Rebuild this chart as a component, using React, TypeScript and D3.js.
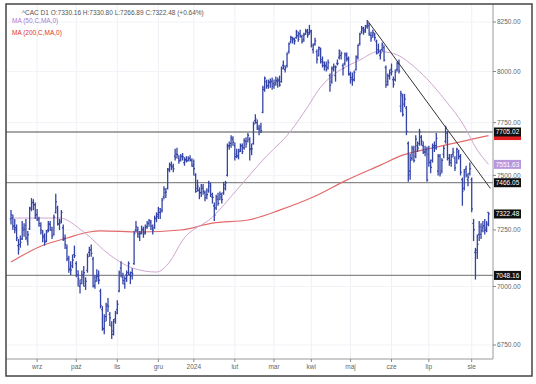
import React from 'react';
import * as d3 from 'd3';

type Bar = [number, number, number, number]; // open, high, low, close

const aug23: Bar[] = [
  [7300,7340,7275,7318],[7305,7320,7250,7267],[7270,7300,7235,7260],[7250,7275,7200,7215],
  [7180,7210,7140,7164],[7185,7225,7170,7194],[7210,7290,7205,7260],[7250,7280,7220,7254],
  [7270,7300,7205,7214],[7200,7245,7180,7229],[7255,7355,7250,7346],[7350,7395,7335,7374],
  [7375,7390,7340,7364],[7365,7375,7300,7316],
];
const sep23: Bar[] = [
  [7320,7345,7290,7296],[7300,7310,7265,7279],[7270,7285,7230,7250],[7240,7250,7195,7223],
  [7215,7235,7180,7196],[7200,7250,7195,7241],[7250,7290,7240,7279],[7275,7290,7245,7262],
  [7250,7265,7210,7222],[7230,7320,7225,7308],[7330,7415,7325,7378],[7350,7360,7270,7279],
  [7275,7300,7250,7281],[7290,7340,7280,7330],[7260,7275,7200,7214],[7210,7230,7165,7184],
  [7170,7185,7110,7123],[7120,7135,7060,7074],[7080,7110,7050,7071],[7090,7140,7080,7116],
  [7140,7180,7125,7135],
];
const oct23: Bar[] = [
  [7100,7110,7040,7068],[7050,7070,7000,7034],[7000,7030,6970,7012],[7030,7070,7010,7050],
  [7040,7090,7000,7060],[7000,7040,6985,7022],[7070,7145,7060,7131],[7150,7175,7130,7162],
  [7160,7185,7130,7145],[7120,7130,6995,7004],[7000,7050,6990,7023],[7040,7075,7020,7044],
  [7050,7070,7010,7027],[6980,6990,6905,6917],[6900,6915,6810,6816],[6820,6880,6795,6850],
  [6870,6930,6850,6915],[6920,6950,6890,6914],[6880,6890,6830,6865],[6830,6850,6775,6795],
  [6810,6860,6790,6850],[6860,6895,6840,6885],
];
const nov23: Bar[] = [
  [6900,6940,6880,6923],[6980,7070,6975,7060],[7080,7110,7040,7048],[7040,7060,7010,7026],
  [7010,7045,6990,7034],[7050,7070,7020,7047],[7060,7110,7050,7100],[7050,7065,7010,7045],
  [7060,7080,7030,7055],[7100,7245,7095,7234],[7250,7290,7240,7264],[7250,7265,7215,7232],
  [7220,7245,7200,7234],[7240,7270,7230,7254],[7250,7265,7215,7233],[7240,7275,7230,7260],
  [7265,7290,7255,7278],[7280,7300,7265,7293],[7285,7295,7250,7267],[7255,7275,7230,7249],
  [7260,7315,7255,7304],[7300,7330,7285,7310],
];
const dec23: Bar[] = [
  [7320,7355,7300,7346],[7330,7350,7300,7330],[7340,7395,7330,7386],[7400,7450,7390,7436],
  [7420,7440,7395,7423],[7440,7535,7435,7526],[7530,7560,7515,7545],[7550,7565,7525,7543],
  [7540,7555,7515,7531],[7590,7625,7570,7582],[7600,7630,7580,7597],[7580,7595,7555,7569],
  [7575,7600,7565,7588],[7590,7605,7570,7587],[7560,7585,7545,7571],[7575,7590,7560,7568],
  [7570,7590,7565,7578],[7580,7595,7565,7571],[7570,7580,7540,7543],
];
const jan24: Bar[] = [
  [7550,7575,7500,7531],[7500,7510,7420,7426],[7440,7480,7425,7450],[7430,7445,7390,7420],
  [7420,7460,7400,7450],[7440,7460,7410,7426],[7420,7430,7380,7397],[7410,7440,7390,7411],
  [7430,7475,7420,7465],[7450,7465,7400,7412],[7400,7420,7370,7398],[7360,7375,7290,7317],
  [7350,7410,7340,7401],[7390,7420,7360,7371],[7390,7425,7385,7413],[7400,7420,7370,7388],
  [7420,7470,7410,7456],[7440,7475,7430,7465],[7500,7650,7495,7634],[7640,7660,7620,7640],
  [7650,7690,7630,7678],[7670,7685,7640,7656],
];
const feb24: Bar[] = [
  [7640,7655,7570,7588],[7600,7625,7580,7592],[7590,7625,7575,7612],[7620,7650,7610,7638],
  [7640,7650,7600,7612],[7630,7675,7620,7665],[7660,7680,7630,7648],[7660,7700,7655,7689],
  [7670,7680,7570,7625],[7620,7650,7595,7625],[7650,7755,7645,7743],[7760,7790,7745,7768],
  [7750,7765,7715,7729],[7720,7740,7690,7719],[7730,7750,7700,7711],[7800,7930,7795,7911],
  [7920,7975,7900,7966],[7950,7960,7915,7929],[7930,7960,7915,7951],[7945,7965,7920,7954],
  [7950,7970,7910,7927],
];
const mar24: Bar[] = [
  [7940,7960,7915,7934],[7945,7975,7930,7956],[7950,7970,7920,7954],[7960,7980,7925,7934],
  [7950,8025,7945,8016],[8030,8055,8010,8028],[8010,8030,7995,8018],[8030,8095,8020,8088],
  [8100,8145,8090,8138],[8150,8180,8140,8171],[8160,8175,8140,8164],[8160,8170,8135,8154],
  [8170,8210,8165,8201],[8180,8200,8150,8161],[8190,8210,8170,8180],[8175,8185,8140,8151],
  [8160,8195,8150,8184],[8190,8215,8185,8204],[8200,8215,8170,8185],[8195,8235,8185,8206],
];
const apr24: Bar[] = [
  [8200,8210,8120,8130],[8110,8140,8090,8133],[8140,8170,8130,8154],[8100,8110,8040,8061],
  [8080,8125,8075,8119],[8110,8120,8040,8049],[8060,8075,8020,8045],[8030,8050,8005,8024],
  [8030,8050,8000,8010],[8020,8060,8010,8045],[7980,7990,7900,7932],[7950,8025,7940,8013],
  [8020,8040,8000,8023],[7980,8030,7950,8022],[8040,8060,8030,8040],[8070,8110,8060,8105],
  [8080,8100,8060,8091],[8030,8040,7980,8016],[8040,8095,8030,8088],[8080,8095,8050,8065],
  [8060,8075,7980,7985],
];
const may24: Bar[] = [
  [7990,8000,7940,7960],[7970,7995,7930,7958],[7960,8005,7950,7996],[8010,8080,8005,8075],
  [8070,8135,8060,8131],[8140,8195,8130,8188],[8200,8230,8190,8219],[8210,8225,8185,8209],
  [8200,8235,8195,8225],[8230,8259,8215,8240],[8230,8245,8180,8188],[8180,8200,8150,8168],
  [8180,8210,8170,8195],[8185,8195,8155,8170],[8150,8160,8085,8092],[8110,8140,8090,8102],
  [8080,8110,8060,8094],[8110,8145,8100,8133],[8120,8130,8050,8057],[8020,8030,7920,7935],
  [7950,7990,7930,7978],[7980,8010,7960,7993],
];
const jun24: Bar[] = [
  [8010,8040,7980,8000],[7960,7975,7920,7937],[7960,8010,7950,7997],[8010,8050,8000,8041],
  [8040,8060,7990,8002],[7830,7905,7800,7890],[7880,7890,7780,7789],[7840,7890,7825,7864],
  [7820,7830,7690,7708],[7650,7660,7470,7503],[7520,7600,7480,7571],[7580,7640,7570,7628],
  [7620,7640,7560,7570],[7590,7690,7580,7671],[7640,7660,7610,7628],[7650,7720,7640,7706],
  [7680,7690,7640,7662],[7640,7660,7600,7609],[7610,7640,7590,7610],[7620,7635,7470,7479],
];
const jul24: Bar[] = [
  [7600,7640,7540,7561],[7560,7575,7510,7538],[7570,7650,7560,7632],[7640,7660,7610,7627],
  [7640,7700,7620,7675],[7520,7600,7500,7589],[7590,7600,7495,7508],[7520,7580,7510,7571],
  [7600,7640,7580,7627],[7660,7735,7650,7724],[7700,7710,7570,7580],[7580,7600,7545,7570],
  [7560,7600,7540,7586],[7600,7630,7585,7609],[7580,7590,7520,7535],[7560,7630,7555,7622],
  [7610,7620,7575,7588],[7590,7600,7500,7514],[7480,7490,7360,7427],[7440,7530,7430,7517],
  [7530,7545,7490,7501],[7480,7510,7450,7492],[7510,7560,7500,7531],
];
const aug24: Bar[] = [
  [7480,7490,7330,7346],[7280,7300,7200,7251],[7150,7170,7030,7148],[7160,7230,7120,7186],
  [7230,7290,7200,7265],[7230,7280,7210,7247],[7260,7290,7240,7269],[7270,7300,7230,7250],
  [7260,7290,7240,7276],[7330.16,7330.8,7266.89,7322.48],
];

const months: Bar[][] = [aug23, sep23, oct23, nov23, dec23, jan24, feb24, mar24, apr24, may24, jun24, jul24, aug24];
const monthLabels = ['', 'wrz', 'paź', 'lis', 'gru', '2024', 'lut', 'mar', 'kwi', 'maj', 'cze', 'lip', 'sie'];
const yTicks = [6750, 7000, 7250, 7500, 7750, 8000, 8250];

// [bar index, value]
const ma50Pts: [number, number][] = [
  [0,7304],[26,7304],[39,7241],[53,7138],[65,7081],[78,7063],[85,7107],[92,7204],[108,7308],
  [121,7432],[135,7572],[150,7710],[159,7826],[166,7923],[175,7998],[187,8057],[197,8100],
  [205,8090],[219,8000],[234,7845],[242,7748],[250,7619],[256,7551.63],
];
const ma200Pts: [number, number][] = [
  [0,7107],[15,7174],[30,7214],[42,7241],[48,7246],[69,7241],[91,7250],[108,7281],[127,7295],
  [144,7340],[162,7400],[180,7478],[198,7548],[210,7595],[228,7633],[256,7688],
];
const levels = [7705.02, 7466.05, 7048.16];
const trendPts: [number, number][] = [[191, 8259], [257, 7440]];
const lastClose = 7322.48;
const ma50Last = 7551.63;
const ma200Last = 7688;

const W = 536, H = 384;
const PL = 6, PR = 493, PT = 4, PB = 359;
const FONT = 'Liberation Sans, Arial, sans-serif';

export default function App() {
  const bars: Bar[] = months.flat();
  const starts: number[] = [];
  let acc = 0;
  months.forEach((m) => { starts.push(acc); acc += m.length; });

  const x = d3.scaleLinear().domain([0, bars.length - 1]).range([11, 488.5]);
  const y = d3.scaleLog().domain([6750, 8250]).range([345, 22]);

  const line = d3.line<[number, number]>()
    .x((d) => x(d[0]))
    .y((d) => y(d[1]))
    .curve(d3.curveMonotoneX);

  const barColor = '#3444a6';
  const fmt = (v: number) => v.toFixed(2);

  const boxLabel = (v: number, bg: string, key: string) => (
    <g key={key}>
      <rect x={494} y={y(v) - 4.5} width={27} height={9} fill={bg} />
      <text x={507.5} y={y(v) + 2.4} fill="#fff" fontSize={6.5} textAnchor="middle" fontFamily={FONT}>{fmt(v)}</text>
    </g>
  );

  return (
    <svg width={W} height={H} style={{ position: 'absolute', left: 0, top: 0, background: '#fff' }}>
      <defs>
        <clipPath id="plot">
          <rect x={PL} y={PT} width={PR - PL} height={PB - PT} />
        </clipPath>
      </defs>
      <rect x={0} y={0} width={W} height={H} fill="#fff" />
      {starts.slice(1).map((s, k) => (
        <line key={'vg' + k} x1={x(s)} x2={x(s)} y1={PT} y2={PB} stroke="#eef0f6" strokeWidth={1} />
      ))}
      {yTicks.map((t) => (
        <line key={'hg' + t} x1={PL} x2={PR} y1={y(t)} y2={y(t)} stroke="#f2f3f8" strokeWidth={1} />
      ))}
      <g clipPath="url(#plot)">
        {levels.map((v) => (
          <line key={'lv' + v} x1={PL} x2={PR} y1={y(v)} y2={y(v)} stroke="#8a8a8a" strokeWidth={1.3} />
        ))}
        <path d={line(ma200Pts) || ''} fill="none" stroke="#e36a6a" strokeWidth={1.2} />
        <path d={line(ma50Pts) || ''} fill="none" stroke="#cfa7cf" strokeWidth={1} />
        {bars.map((b, i) => {
          const cx = x(i);
          return (
            <g key={'b' + i} stroke={barColor} strokeWidth={1.3}>
              <line x1={cx} x2={cx} y1={y(b[1])} y2={y(b[2])} />
              <line x1={cx - 1.2} x2={cx} y1={y(b[0])} y2={y(b[0])} />
              <line x1={cx} x2={cx + 1.2} y1={y(b[3])} y2={y(b[3])} />
            </g>
          );
        })}
        <line x1={x(trendPts[0][0])} y1={y(trendPts[0][1])} x2={x(trendPts[1][0])} y2={y(trendPts[1][1])}
          stroke="#333" strokeWidth={1} />
      </g>
      <line x1={PR} x2={PR} y1={PT} y2={PB} stroke="#9a9a9a" strokeWidth={1} />
      <line x1={PL} x2={PR} y1={PB} y2={PB} stroke="#9a9a9a" strokeWidth={1} />
      {yTicks.map((t) => (
        <g key={'yt' + t}>
          <line x1={PR} x2={PR + 3} y1={y(t)} y2={y(t)} stroke="#888" />
          <text x={497} y={y(t) + 2.3} fontSize={6.5} fill="#666" fontFamily={FONT}>{fmt(t)}</text>
        </g>
      ))}
      {starts.map((s, k) => k === 0 ? null : (
        <g key={'xt' + k}>
          <line x1={x(s)} x2={x(s)} y1={PB} y2={PB + 3} stroke="#888" />
          <text x={x(s)} y={PB + 10} fontSize={6.5} fill="#666" textAnchor="middle" fontFamily={FONT}>{monthLabels[k]}</text>
        </g>
      ))}
      {/* MA200 marker, mostly hidden behind the 7705.02 box as in the reference */}
      <rect x={494} y={y(ma200Last) - 4.5} width={27} height={9} fill="#e02020" />
      {boxLabel(levels[0], '#111', 'l0')}
      {boxLabel(ma50Last, '#b996dc', 'm50')}
      {boxLabel(levels[1], '#111', 'l1')}
      {boxLabel(lastClose, '#111', 'lc')}
      {boxLabel(levels[2], '#111', 'l2')}
      <text x={22} y={15} fontSize={6.5} fill="#555" fontFamily={FONT}>^CAC D1 O:7330.16 H:7330.80 L:7266.89 C:7322.48 (+0.64%)</text>
      <text x={12} y={23} fontSize={6.5} fill="#a77bcf" fontFamily={FONT}>MA (50,C,MA,0)</text>
      <text x={12} y={35} fontSize={6.5} fill="#e03030" fontFamily={FONT}>MA (200,C,MA,0)</text>
      <rect x={PL} y={PT} width={532 - PL} height={376 - PT} fill="none" stroke="#444" strokeWidth={1.5} />
    </svg>
  );
}
